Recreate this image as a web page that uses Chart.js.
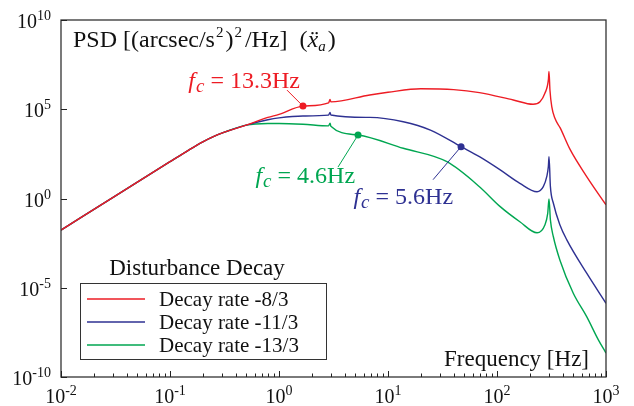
<!DOCTYPE html>
<html>
<head>
<meta charset="utf-8">
<script src="https://cdn.jsdelivr.net/npm/chart.js@4"></script>
<style>
  html, body { margin: 0; padding: 0; background: #fff; }
  #wrap { width: 634px; height: 406px; }
</style>
</head>
<body>
<div id="wrap"><canvas id="psd-chart"></canvas></div>
<script>
var SERIES_LABELS = ['Decay rate -8/3', 'Decay rate -11/3', 'Decay rate -13/3'];
var SERIES_COLORS = ['#ed1c24', '#2e3192', '#00a651'];

// low-frequency rise, the three curves lie on top of each other here
var riseFreq = [0.01, 0.0316, 0.1, 0.14, 0.2, 0.25, 0.316, 0.5];
var risePsd = [1.7e-2, 1.4, 115, 410, 1.5e3, 2.95e3, 5.2e3, 1.3e4];

var redFreq = [0.79, 1, 1.66, 2.85, 2.94, 2.99, 6.8, 10, 20, 40, 69, 141, 214, 248, 275, 296, 300, 306, 318, 340, 380, 468, 665, 1000];
var redPsd = [3.5e4, 5.2e4, 1.5e5, 2.3e5, 3.5e5, 2.6e5, 6.3e5, 8.9e5, 1.4e6, 1.26e6, 8.5e5, 3.3e5, 1.9e5, 2.6e5, 7.8e5, 4.4e6, 1.3e7, 1.2e6, 1.4e5, 3.1e4, 9e3, 560, 17, 0.44];

var blueFreq = [0.79, 1, 1.66, 2.85, 2.94, 2.99, 6.8, 13.8, 24.5, 46.8, 69, 107, 162, 233, 266, 286, 296, 300, 309, 329, 378, 437, 665, 1000];
var bluePsd = [2.6e4, 3.3e4, 4.2e4, 4.7e4, 6.6e4, 4.8e4, 3.5e4, 2.0e4, 6.8e3, 800, 220, 40, 7.1, 2.4, 4.6, 16.6, 63, 220, 4.6, 0.54, 0.033, 4.8e-3, 6.5e-5, 1.35e-6];

var greenFreq = [0.79, 1, 1.66, 2.85, 2.94, 2.99, 5.31, 13.8, 34.7, 69, 107, 162, 233, 275, 292, 300, 309, 329, 378, 501, 665, 851, 1000];
var greenPsd = [1.6e4, 1.6e4, 1.45e4, 1.17e4, 1.66e4, 1.12e4, 3.6e3, 650, 115, 4.6, 0.35, 0.05, 0.012, 0.033, 0.148, 0.93, 0.063, 7.2e-3, 3.5e-4, 4.9e-6, 2.4e-7, 1.2e-8, 2.2e-9];

// cutoff markers (red, blue, green)
var markerFreq = [1.66, 46.8, 5.31];
var markerPsd = [1.5e5, 800, 3.6e3];
var cutoffText = ['13.3Hz', '5.6Hz', '4.6Hz'];

var xExponents = [-2, -1, 0, 1, 2, 3];
var yExponents = [-10, -5, 0, 5, 10];

var SERIF = '"Liberation Serif", "Times New Roman", serif';

function toPoints(fx, fy) {
  var pts = [];
  for (var i = 0; i < fx.length; i++) pts.push({ x: fx[i], y: fy[i] });
  return pts;
}

function curve(idx, fx, fy) {
  return {
    label: SERIES_LABELS[idx],
    data: toPoints(riseFreq.concat(fx), risePsd.concat(fy)),
    borderColor: SERIES_COLORS[idx],
    borderWidth: 1.4,
    pointRadius: 0,
    fill: false,
    cubicInterpolationMode: 'monotone',
  };
}

function marker(idx) {
  return {
    label: 'fc ' + cutoffText[idx],
    data: [{ x: markerFreq[idx], y: markerPsd[idx] }],
    showLine: false,
    pointRadius: 3.5,
    pointBackgroundColor: SERIES_COLORS[idx],
    pointBorderWidth: 0,
  };
}

// draws a row of text pieces (sizes / raised pieces), gap = extra px before a piece
function drawRuns(ctx, runs, x, y, align) {
  var total = 0;
  runs.forEach(function (r) {
    ctx.font = r.font;
    r.w = ctx.measureText(r.text).width + (r.gap || 0);
    total += r.w;
  });
  var cx = x;
  if (align === 'right') cx = x - total;
  if (align === 'center') cx = x - total / 2;
  ctx.textAlign = 'left';
  ctx.textBaseline = 'alphabetic';
  runs.forEach(function (r) {
    ctx.font = r.font;
    ctx.fillText(r.text, cx + (r.gap || 0), y + (r.dy || 0));
    cx += r.w;
  });
}

function powRuns(exp) {
  return [
    { text: '10', font: '20px ' + SERIF },
    { text: String(exp), font: '14px ' + SERIF, dy: -8 },
  ];
}

// leader offsets for the fc labels: [lineDx, lineDy, textDx, textDy]
var LABEL_OFFSETS = [[-16, -16, -3, -18], [-28, 33, -8, 57], [-20, 32, -3, 48]];

var decorations = {
  id: 'decorations',
  afterDatasetsDraw: function (chart) {
    var ctx = chart.ctx;
    var a = chart.chartArea;
    var xs = chart.scales.x;
    var ys = chart.scales.y;
    ctx.save();

    // frame
    ctx.strokeStyle = '#333';
    ctx.lineWidth = 1.3;
    ctx.strokeRect(a.left, a.top, a.right - a.left, a.bottom - a.top);

    // ticks, inside
    ctx.lineWidth = 1;
    ctx.strokeStyle = '#222';
    ctx.beginPath();
    for (var d = 0; d < xExponents.length; d++) {
      var base = Math.pow(10, xExponents[d]);
      var px = Math.round(xs.getPixelForValue(base)) + 0.5;
      ctx.moveTo(px, a.bottom);
      ctx.lineTo(px, a.bottom - 6);
      if (d < xExponents.length - 1) {
        for (var m = 2; m <= 9; m++) {
          var mx = Math.round(xs.getPixelForValue(m * base)) + 0.5;
          ctx.moveTo(mx, a.bottom);
          ctx.lineTo(mx, a.bottom - 3.5);
        }
      }
    }
    yExponents.forEach(function (e) {
      var py = Math.round(ys.getPixelForValue(Math.pow(10, e))) + 0.5;
      ctx.moveTo(a.left, py);
      ctx.lineTo(a.left + 6, py);
    });
    ctx.stroke();

    // tick labels
    ctx.fillStyle = '#111';
    xExponents.forEach(function (e) {
      drawRuns(ctx, powRuns(e), xs.getPixelForValue(Math.pow(10, e)), 403, 'center');
    });
    yExponents.forEach(function (e) {
      drawRuns(ctx, powRuns(e), 51, ys.getPixelForValue(Math.pow(10, e)) + 8, 'right');
    });

    // axis titles
    var big = '24px ' + SERIF;
    var small = '15px ' + SERIF;
    drawRuns(ctx, [
      { text: 'PSD [(arcsec/s', font: big },
      { text: '2', font: small, dy: -10, gap: 1 },
      { text: ')', font: big, gap: 2 },
      { text: '2', font: small, dy: -10, gap: 1 },
      { text: '/Hz]', font: big, gap: 3 },
      { text: '(', font: big, gap: 12 },
      { text: 'x\u0308', font: 'italic ' + big },
      { text: 'a', font: 'italic ' + small, dy: 4 },
      { text: ')', font: big, gap: 2 },
    ], 73, 47, 'left');
    drawRuns(ctx, [{ text: 'Frequency [Hz]', font: '23px ' + SERIF }], 589, 366, 'right');

    // fc annotations
    for (var i = 0; i < 3; i++) {
      var pt = chart.getDatasetMeta(3 + i).data[0];
      var off = LABEL_OFFSETS[i];
      ctx.strokeStyle = SERIES_COLORS[i];
      ctx.lineWidth = 1;
      ctx.beginPath();
      ctx.moveTo(pt.x, pt.y);
      ctx.lineTo(pt.x + off[0], pt.y + off[1]);
      ctx.stroke();
      ctx.fillStyle = SERIES_COLORS[i];
      drawRuns(ctx, [
        { text: 'f', font: 'italic 24px ' + SERIF },
        { text: 'c', font: 'italic 19px ' + SERIF, dy: 4, gap: 1 },
        { text: ' = ' + cutoffText[i], font: '24px ' + SERIF },
      ], pt.x + off[2], pt.y + off[3], 'right');
    }

    // legend
    ctx.fillStyle = '#111';
    drawRuns(ctx, [{ text: 'Disturbance Decay', font: '23px ' + SERIF }], 197, 275, 'center');
    ctx.strokeStyle = '#333';
    ctx.lineWidth = 1;
    ctx.strokeRect(80.5, 283.5, 246, 76);
    for (var k = 0; k < 3; k++) {
      var ly = 299 + k * 23;
      ctx.strokeStyle = chart.data.datasets[k].borderColor;
      ctx.lineWidth = 1.4;
      ctx.beginPath();
      ctx.moveTo(87, ly);
      ctx.lineTo(145, ly);
      ctx.stroke();
      ctx.fillStyle = '#111';
      drawRuns(ctx, [{ text: chart.data.datasets[k].label, font: '21px ' + SERIF }], 159, ly + 7, 'left');
    }
    ctx.restore();
  },
};

var ctx = document.getElementById('psd-chart').getContext('2d');
var psdChart = new Chart(ctx, {
  type: 'line',
  data: {
    datasets: [
      curve(0, redFreq, redPsd),
      curve(1, blueFreq, bluePsd),
      curve(2, greenFreq, greenPsd),
      marker(0),
      marker(1),
      marker(2),
    ],
  },
  options: {
    responsive: true,
    maintainAspectRatio: false,
    animation: false,
    layout: { padding: { left: 61, right: 28, top: 20, bottom: 29 } },
    scales: {
      x: { type: 'logarithmic', min: 0.01, max: 1000, display: false },
      y: { type: 'logarithmic', min: 1e-10, max: 1e10, display: false },
    },
    plugins: {
      legend: { display: false },
      tooltip: { enabled: false },
    },
  },
  plugins: [decorations],
});
</script>
</body>
</html>
